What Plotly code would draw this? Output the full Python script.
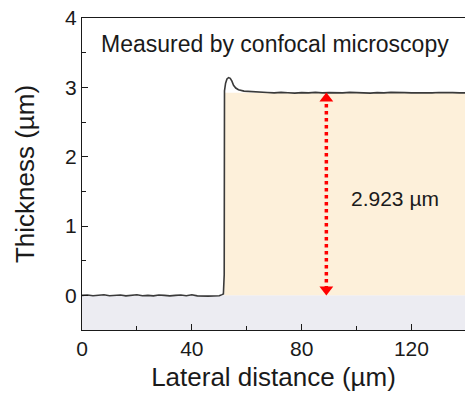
import plotly.graph_objects as go

# Surface profile of the film edge (lateral position in µm, height in µm)
lateral_um = [
    0, 2, 4, 6, 8, 10, 12, 14, 16, 18, 20, 22, 24, 26, 28, 30, 32, 34, 36, 38,
    40, 42, 44, 46, 48, 50, 51.0, 51.5,
    51.8, 51.9, 52.3, 52.8, 53.4, 54.0, 54.6, 55.2, 56.0, 57.0, 59.0, 62.0, 65.0,
    67.5, 70, 72.5, 75, 77.5, 80, 82.5, 85, 87.5, 90, 92.5, 95, 97.5, 100,
    102.5, 105, 107.5, 110, 112.5, 115, 117.5, 120, 122.5, 125, 127.5, 130,
    132.5, 135, 137.5, 139.5,
]
thickness_um = [
    0.00, 0.005, -0.005, 0.0, 0.008, -0.006, 0.0, 0.005, -0.008, 0.0, 0.008,
    -0.005, 0.0, -0.008, 0.005, 0.0, -0.008, 0.0, 0.005, -0.005, 0.008, -0.008,
    -0.005, -0.012, -0.01, -0.005, 0.01, 0.02,
    0.30, 2.95, 3.06, 3.12, 3.14, 3.13, 3.09, 3.03, 2.99, 2.965, 2.945, 2.935, 2.93,
    2.925, 2.92, 2.927, 2.922, 2.917, 2.924, 2.92, 2.927, 2.92, 2.924, 2.917, 2.92,
    2.927, 2.923, 2.92, 2.917, 2.924, 2.92, 2.927, 2.92, 2.923, 2.92, 2.917, 2.923,
    2.92, 2.926, 2.92, 2.923, 2.92, 2.92,
]

step_x = 51.8          # film edge position (µm)
film_thickness = 2.923  # measured step height (µm)
arrow_x = 89            # where the step height is marked
x_range = [0, 139.5]
y_range = [-0.5, 4]
x_ticks = [0, 40, 80, 120]
y_ticks = [0, 1, 2, 3, 4]

FONT = "Liberation Sans, Arial, sans-serif"
TEXT = "#1a1a1a"

fig = go.Figure()

# substrate band below zero and film region above it
fig.add_shape(type="rect", xref="x", yref="y", layer="below", line_width=0,
              x0=x_range[0], x1=x_range[1], y0=y_range[0], y1=0,
              fillcolor="#ececf2")
fig.add_shape(type="rect", xref="x", yref="y", layer="below", line_width=0,
              x0=step_x, x1=x_range[1], y0=0, y1=film_thickness,
              fillcolor="#fdf0da")

fig.add_trace(go.Scatter(
    x=lateral_um, y=thickness_um, mode="lines",
    line=dict(color="#3a3a3a", width=1.6), hoverinfo="skip", showlegend=False,
))

# dotted double-headed arrow showing the step height
head = 0.085
fig.add_trace(go.Scatter(
    x=[arrow_x, arrow_x], y=[head, film_thickness - head], mode="lines",
    line=dict(color="#ff0000", width=3.5, dash="dot"), showlegend=False,
))
fig.add_trace(go.Scatter(
    x=[arrow_x, arrow_x], y=[head, film_thickness - head], mode="markers",
    marker=dict(symbol=["triangle-down", "triangle-up"], size=12,
                color="#ff0000", line_width=0),
    showlegend=False,
))

fig.add_annotation(x=arrow_x + 8.3, y=1.4, xref="x", yref="y",
                   text=f"{film_thickness} µm", showarrow=False,
                   xanchor="left", yanchor="middle",
                   font=dict(family=FONT, size=21, color=TEXT))
fig.add_annotation(x=0.045, y=0.917, xref="paper", yref="paper",
                   text="Measured by confocal microscopy", showarrow=False,
                   xanchor="left", yanchor="middle",
                   font=dict(family=FONT, size=23, color=TEXT))

axis_common = dict(
    showgrid=False, zeroline=False, showline=True, linecolor="#1a1a1a",
    linewidth=1.3, ticks="inside", ticklen=6, tickwidth=1.2, tickcolor="#1a1a1a",
    tickfont=dict(family=FONT, size=21, color=TEXT),
)

fig.update_xaxes(
    **axis_common, range=x_range, tickvals=x_ticks, mirror=True,
    minor=dict(ticks="inside", ticklen=3.5, tickwidth=1, tickcolor="#1a1a1a",
               tickvals=[20, 60, 100]),
    title=dict(text="Lateral distance (µm)", standoff=8,
               font=dict(family=FONT, size=26, color=TEXT)),
)
fig.update_yaxes(
    **axis_common, range=y_range, tickvals=y_ticks,
    minor=dict(ticks="inside", ticklen=3.5, tickwidth=1, tickcolor="#1a1a1a",
               tickvals=[0.5, 1.5, 2.5, 3.5]),
    title=dict(text="Thickness (µm)", standoff=22,
               font=dict(family=FONT, size=26, color=TEXT)),
)

fig.update_layout(
    width=465, height=400,
    margin=dict(l=82, r=0, t=18, b=70),
    paper_bgcolor="white", plot_bgcolor="white",
    font=dict(family=FONT, color=TEXT),
)

fig.write_html("out.html")
